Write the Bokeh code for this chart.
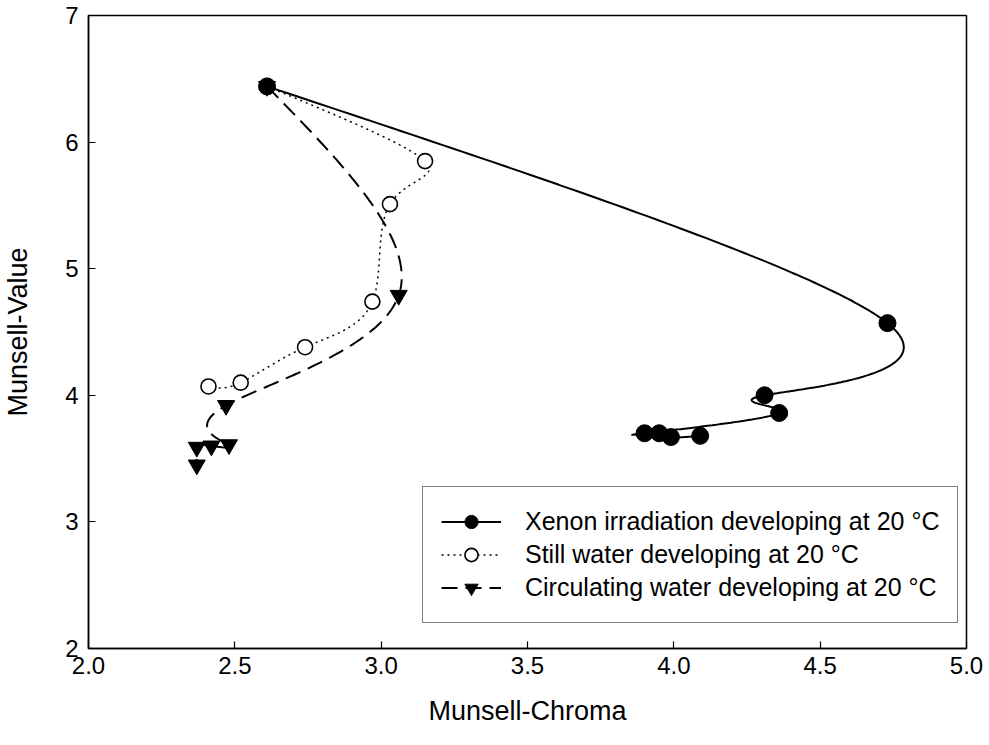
import numpy as np
from bokeh.plotting import figure
from bokeh.models import (Range1d, FixedTicker, PrintfTickFormatter, Legend, LegendItem)
from bokeh.embed import file_html
from bokeh.resources import INLINE

# ---- data ----
xenon_x = [2.61, 4.73, 4.31, 4.36, 3.90, 3.95, 3.99, 4.09]
xenon_y = [6.44, 4.57, 4.00, 3.86, 3.70, 3.70, 3.67, 3.68]

still_x = [2.61, 3.15, 3.03, 2.97, 2.74, 2.52, 2.41]
still_y = [6.44, 5.85, 5.51, 4.74, 4.38, 4.10, 4.07]

circ_x = [2.61, 3.06, 2.47, 2.48, 2.42, 2.37, 2.37]
circ_y = [6.44, 4.79, 3.92, 3.61, 3.60, 3.59, 3.45]

labels = ["Xenon irradiation developing at 20 \u00b0C",
          "Still water developing at 20 \u00b0C",
          "Circulating water developing at 20 \u00b0C"]

x_ticks = [2.0, 2.5, 3.0, 3.5, 4.0, 4.5, 5.0]
y_ticks = [2, 3, 4, 5, 6, 7]

FONT = "Liberation Sans"


def natural_spline(t, y, tt):
    t = np.asarray(t, float)
    y = np.asarray(y, float)
    n = len(t)
    h = np.diff(t)
    A = np.zeros((n, n))
    b = np.zeros(n)
    A[0, 0] = 1.0
    A[-1, -1] = 1.0
    for i in range(1, n - 1):
        A[i, i - 1] = h[i - 1]
        A[i, i] = 2 * (h[i - 1] + h[i])
        A[i, i + 1] = h[i]
        b[i] = 6 * ((y[i + 1] - y[i]) / h[i] - (y[i] - y[i - 1]) / h[i - 1])
    M = np.linalg.solve(A, b)
    idx = np.clip(np.searchsorted(t, tt, side="right") - 1, 0, n - 2)
    t0 = t[idx]
    t1 = t[idx + 1]
    hh = t1 - t0
    a = (t1 - tt) / hh
    c = (tt - t0) / hh
    return (a * y[idx] + c * y[idx + 1]
            + ((a ** 3 - a) * M[idx] + (c ** 3 - c) * M[idx + 1]) * hh ** 2 / 6)


def spline_curve(xs, ys, per=80):
    t = np.arange(len(xs), dtype=float)
    tt = np.linspace(0, len(xs) - 1, per * (len(xs) - 1) + 1)
    return natural_spline(t, xs, tt), natural_spline(t, ys, tt)


p = figure(width=985, height=740, output_backend="svg", toolbar_location=None,
           x_range=Range1d(2.0, 5.0), y_range=Range1d(2, 7),
           min_border_left=88, min_border_right=19, min_border_top=15,
           min_border_bottom=92)
p.background_fill_color = "white"
p.border_fill_color = "white"
p.outline_line_color = "black"
p.outline_line_width = 1.5
p.grid.visible = False

for ax in (p.xaxis[0], p.yaxis[0]):
    ax.axis_line_width = 1.5
    ax.major_tick_in = 7
    ax.major_tick_out = 0
    ax.major_tick_line_width = 1.2
    ax.minor_tick_line_color = None
    ax.major_label_text_font = FONT
    ax.major_label_text_font_size = "24px"
    ax.major_label_text_color = "black"
    ax.axis_label_text_font = FONT
    ax.axis_label_text_font_size = "27px"
    ax.axis_label_text_font_style = "normal"
    ax.axis_label_text_color = "black"

p.xaxis.ticker = FixedTicker(ticks=x_ticks)
p.yaxis.ticker = FixedTicker(ticks=y_ticks)
p.xaxis.formatter = PrintfTickFormatter(format="%.1f")
p.yaxis.formatter = PrintfTickFormatter(format="%d")
p.xaxis.axis_label = "Munsell-Chroma"
p.yaxis.axis_label = "Munsell-Value"
p.xaxis.major_label_standoff = 8
p.yaxis.major_label_standoff = 10
p.xaxis.axis_label_standoff = 19
p.yaxis.axis_label_standoff = 29

# curves
sx, sy = spline_curve(still_x, still_y)
l_still = p.line(sx, sy, line_color="black", line_width=1.5, line_dash="2 4")
cx, cy = spline_curve(circ_x, circ_y)
l_circ = p.line(cx, cy, line_color="black", line_width=2, line_dash="16 8")
xx, xy = spline_curve(xenon_x, xenon_y)
l_xen = p.line(xx, xy, line_color="black", line_width=2)

m_still = p.scatter(still_x, still_y, marker="circle", size=15,
                    fill_color="white", line_color="black", line_width=1.6)
m_circ = p.scatter(circ_x, circ_y, marker="inverted_triangle", size=17,
                   fill_color="black", line_color="black")
m_xen = p.scatter(xenon_x, xenon_y, marker="circle", size=17,
                  fill_color="black", line_color="black")

legend = Legend(items=[
    LegendItem(label=labels[0], renderers=[l_xen, m_xen]),
    LegendItem(label=labels[1], renderers=[l_still, m_still]),
    LegendItem(label=labels[2], renderers=[l_circ, m_circ]),
], location=(334, 25))
legend.label_text_font = FONT
legend.label_text_font_size = "25px"
legend.label_text_color = "black"
legend.glyph_width = 60
legend.glyph_height = 33
legend.label_height = 33
legend.spacing = 0
legend.padding = 18
legend.margin = 0
legend.label_standoff = 24
legend.border_line_color = "black"
legend.border_line_width = 1.5
legend.background_fill_alpha = 1.0
p.add_layout(legend, "center")

open("out.html", "w").write(file_html(p, INLINE))
